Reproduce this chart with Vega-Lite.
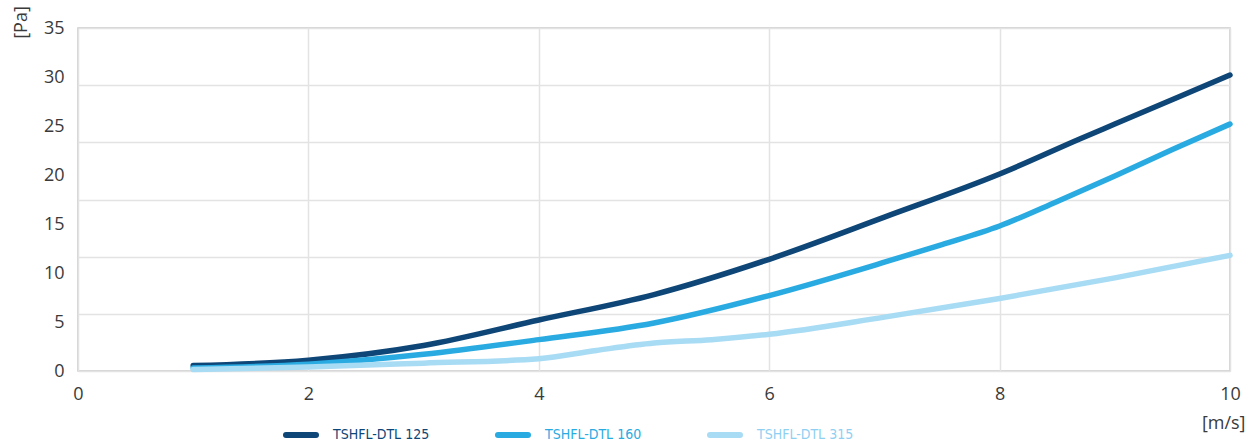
{
  "$schema": "https://vega.github.io/schema/vega-lite/v6.json",
  "autosize": {"type": "none"},
  "padding": {"left": 78, "top": 28, "right": 23, "bottom": 77},
  "width": 1152,
  "height": 343,
  "background": "white",
  "config": {
    "view": {"stroke": "#c8c8c8", "strokeWidth": 1.5},
    "font": "Open Sans",
    "axis": {"labelFont": "Open Sans", "labelFontSize": 18, "labelColor": "#3a3a3a", "titleFont": "Open Sans", "titleFontSize": 18, "titleColor": "#3a3a3a", "titleFontWeight": "normal", "gridColor": "#e3e3e3", "gridWidth": 1.5}
  },
  "data": {
    "values": [
      {"v": 1, "p": 0.55, "s": "125"}, {"v": 2, "p": 1.1, "s": "125"}, {"v": 3, "p": 2.6, "s": "125"}, {"v": 4, "p": 5.2, "s": "125"}, {"v": 5, "p": 7.8, "s": "125"}, {"v": 6, "p": 11.4, "s": "125"}, {"v": 7, "p": 15.7, "s": "125"}, {"v": 8, "p": 20.1, "s": "125"}, {"v": 8.7, "p": 23.7, "s": "125"}, {"v": 9, "p": 25.2, "s": "125"}, {"v": 10, "p": 30.2, "s": "125"},
      {"v": 1, "p": 0.3, "s": "160"}, {"v": 2, "p": 0.7, "s": "160"}, {"v": 3, "p": 1.7, "s": "160"}, {"v": 4, "p": 3.2, "s": "160"}, {"v": 5, "p": 4.9, "s": "160"}, {"v": 6, "p": 7.7, "s": "160"}, {"v": 7, "p": 11.1, "s": "160"}, {"v": 7.5, "p": 12.9, "s": "160"}, {"v": 8, "p": 14.8, "s": "160"}, {"v": 8.5, "p": 17.3, "s": "160"}, {"v": 9, "p": 19.9, "s": "160"}, {"v": 9.5, "p": 22.6, "s": "160"}, {"v": 10, "p": 25.2, "s": "160"},
      {"v": 1, "p": 0.15, "s": "315"}, {"v": 2, "p": 0.4, "s": "315"}, {"v": 3, "p": 0.8, "s": "315"}, {"v": 4, "p": 1.25, "s": "315"}, {"v": 4.5, "p": 2.1, "s": "315"}, {"v": 5, "p": 2.85, "s": "315"}, {"v": 5.5, "p": 3.2, "s": "315"}, {"v": 6, "p": 3.75, "s": "315"}, {"v": 7, "p": 5.5, "s": "315"}, {"v": 8, "p": 7.4, "s": "315"}, {"v": 9, "p": 9.5, "s": "315"}, {"v": 10, "p": 11.8, "s": "315"}
    ]
  },
  "layer": [
    {
      "mark": {"type": "line", "interpolate": "monotone", "strokeWidth": 5.5, "strokeCap": "round"},
      "encoding": {
        "x": {"field": "v", "type": "quantitative", "scale": {"domain": [0, 10], "nice": false},
          "axis": {"values": [0, 2, 4, 6, 8, 10], "format": "d", "grid": true, "domain": false, "ticks": false, "labelPadding": 14, "title": "[m/s]", "titleAnchor": "end", "titleX": 1167, "titleY": 52, "titleAlign": "right", "titleBaseline": "middle", "labelFlush": false}},
        "y": {"field": "p", "type": "quantitative", "scale": {"domain": [0, 35], "nice": false},
          "axis": {"values": [0, 5, 10, 15, 20, 25, 30, 35], "grid": false, "domain": false, "ticks": false, "labelPadding": 14, "title": "[Pa]", "titleAngle": 270, "titleX": -57, "titleY": -6, "titleAlign": "center", "titleBaseline": "middle"}},
        "color": {"field": "s", "type": "nominal",
          "scale": {"domain": ["125", "160", "315"], "range": ["#0e4677", "#29abe2", "#a8dbf4"]},
          "legend": {"orient": "none", "legendX": 205, "legendY": 389, "direction": "horizontal", "title": null,
            "symbolType": "stroke", "symbolStrokeWidth": 6, "symbolSize": 900,
            "labelExpr": "'TSHFL-DTL ' + datum.label", "labelFont": "DejaVu Sans Condensed", "labelFontSize": 14, "labelFontWeight": "normal",
            "columnPadding": 56, "labelOffset": 14,
            "encoding": {
              "symbols": {"strokeCap": {"value": "round"}, "stroke": {"condition": [{"test": "datum.value == '125'", "value": "#0e4677"}, {"test": "datum.value == '160'", "value": "#29abe2"}], "value": "#8fd0f2"}},
              "labels": {"fill": {"condition": [{"test": "datum.value == '125'", "value": "#0e4677"}, {"test": "datum.value == '160'", "value": "#29abe2"}], "value": "#8fd0f2"}}}}
        }
      }
    },
    {
      "mark": {"type": "line", "opacity": 0},
      "encoding": {
        "x": {"field": "v", "type": "quantitative"},
        "y": {"field": "p", "type": "quantitative",
          "axis": {"orient": "right", "values": [0, 5.8333, 11.6667, 17.5, 23.3333, 29.1667, 35], "grid": true, "labels": false, "ticks": false, "domain": false, "title": null}}
      }
    }
  ],
  "resolve": {"axis": {"y": "independent"}}
}
